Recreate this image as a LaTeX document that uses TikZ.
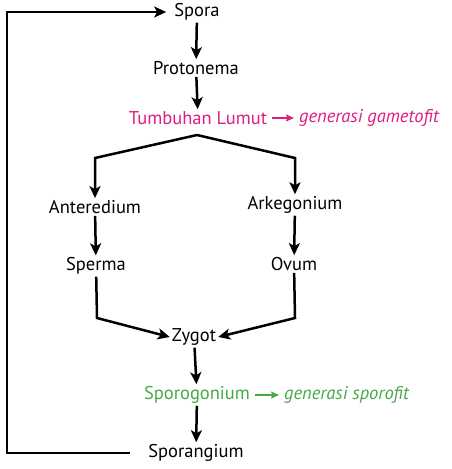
\documentclass[tikz,border=0pt]{standalone}
\usepackage{fontspec}
\setmainfont{PT Sans}
\usetikzlibrary{arrows.meta}
\definecolor{lumutpink}{RGB}{222,28,132}
\definecolor{sporogreen}{RGB}{72,168,72}
\tikzstyle{stage} = [inner sep=2pt, font=\fontsize{18.5}{21}\selectfont]
\tikzstyle{gen} = [inner sep=2pt, anchor=west, font=\fontsize{18.5}{21}\selectfont\itshape]
\tikzstyle{arrow} = [line width=2.5pt,-{Stealth[length=12pt,width=11pt,inset=3pt]}]
\tikzstyle{genarrow} = [line width=1.5pt,shorten <=3pt,shorten >=3pt,-{Stealth[length=8pt,width=7pt,inset=1.5pt]}]

\begin{document}
\begin{tikzpicture}[x=1pt,y=-1pt]
\useasboundingbox (0,0) rectangle (451,469);

% Nodes
\node (spora) [stage] at (197,12) {Spora};
\node (protonema) [stage] at (196,68) {Protonema};
\node (tumbuhan) [stage, text=lumutpink] at (198,118) {Tumbuhan Lumut};
\node (gametofit) [gen, text=lumutpink] at (297,118) {generasi gametofit};
\node (anteredium) [stage] at (95,207) {Anteredium};
\node (arkegonium) [stage] at (295,205) {Arkegonium};
\node (sperma) [stage] at (96,266) {Sperma};
\node (ovum) [stage] at (294,264) {Ovum};
\node (zygot) [stage] at (194,337) {Zygot};
\node (sporogonium) [stage, text=sporogreen] at (197,395) {Sporogonium};
\node (sporofit) [gen, text=sporogreen] at (282,395) {generasi sporofit};
\node (sporangium) [stage] at (196,453) {Sporangium};

% Corners
\coordinate (apex) at (197,135);
\coordinate (kiri) at (95,158);
\coordinate (kanan) at (295,158);
\coordinate (spermaend) at (97,318);
\coordinate (ovumend) at (295,318);
\coordinate (balik) at (7,453);

% Arrows
\draw [arrow] (spora) -- (protonema);
\draw [arrow] (protonema) -- (tumbuhan);
\draw [genarrow, draw=lumutpink, fill=lumutpink] (tumbuhan) -- (gametofit);
\draw [arrow] (apex) -- (kiri) -- (anteredium);
\draw [arrow] (apex) -- (kanan) -- (arkegonium);
\draw [arrow] (anteredium) -- (sperma);
\draw [arrow] (arkegonium) -- (ovum);
\draw [arrow] (sperma) -- (spermaend) -- (zygot.west);
\draw [arrow] (ovum) -- (ovumend) -- (zygot.east);
\draw [arrow] (zygot) -- (sporogonium);
\draw [genarrow, draw=sporogreen, fill=sporogreen] (sporogonium) -- (sporofit);
\draw [arrow] (sporogonium) -- (sporangium);
\draw [arrow] ([xshift=-16pt]sporangium.west) -- (balik) |- ([xshift=-6pt]spora.west);

\end{tikzpicture}
\end{document}
